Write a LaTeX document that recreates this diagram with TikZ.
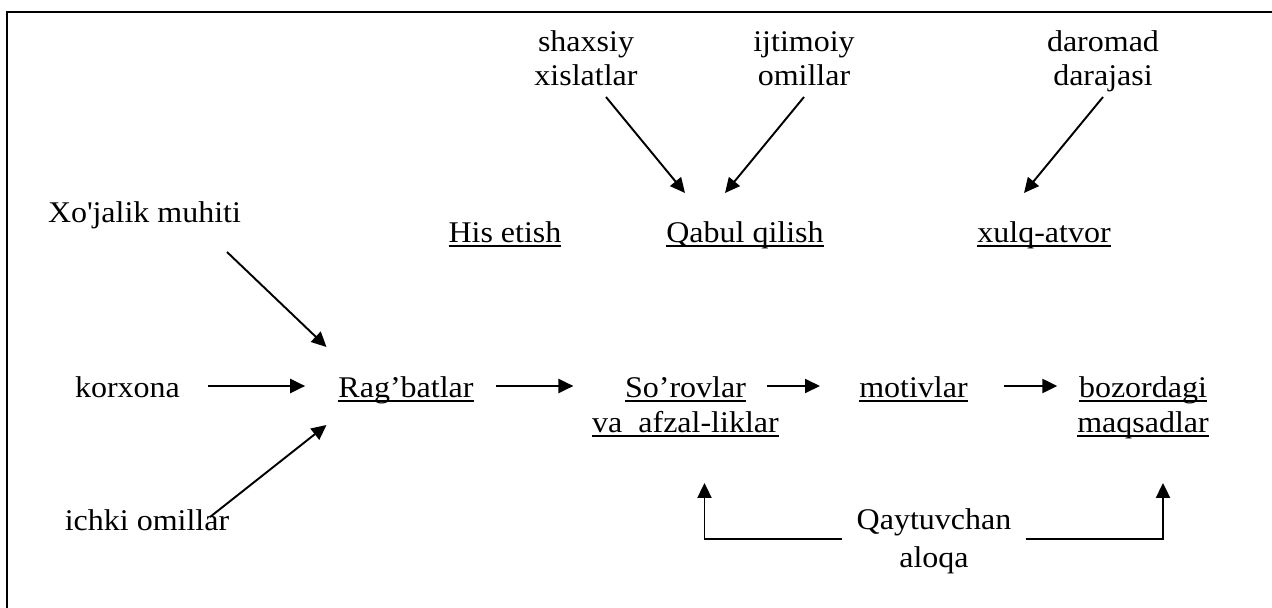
\documentclass[tikz,border=0pt]{standalone}
\usepackage{fontspec}
\setmainfont[FakeStretch=1.065]{Liberation Serif}
\usetikzlibrary{arrows.meta, calc}
\newcommand{\ulined}[1]{\setbox0\hbox{#1}\rlap{\rule[-3pt]{\wd0}{1.1pt}}\box0}

\begin{document}
\begin{tikzpicture}[
    x=0.02cm, y=-0.02cm,
    font=\fontsize{17.1}{19.9}\selectfont,
    term/.style={inner sep=0pt, anchor=base, align=center},
    arrow/.style={-{Triangle[length=8.5pt, width=8pt]}, line width=1.1pt},
    frame/.style={line width=1.1pt}
]
\useasboundingbox (0,0) rectangle (1272,608);
\draw[frame] (7,608) -- (7,12) -- (1272,12);

\node[term] (shax) at (586,86) {shaxsiy\\xislatlar};
\node[term] (ijt) at (804,86) {ijtimoiy\\omillar};
\node[term] (dar) at (1103,86) {daromad\\darajasi};
\node[term] (xoj) at (144.5,222) {Xo\textquotesingle jalik muhiti};
\node[term] (his) at (505,242) {\ulined{His etish}};
\node[term] (qab) at (745,242) {\ulined{Qabul qilish}};
\node[term] (xul) at (1044,242) {\ulined{xulq-atvor}};
\node[term] (korx) at (127.5,397) {korxona};
\node[term] (rag) at (406,397) {\ulined{Rag’batlar}};
\node[term] (sor) at (685.5,432) {\ulined{So’rovlar}\\\ulined{va\ \ afzal-liklar}};
\node[term] (mot) at (913.5,397) {\ulined{motivlar}};
\node[term] (boz) at (1143,432) {\ulined{bozordagi}\\\ulined{maqsadlar}};
\node[term] (ich) at (147,530) {ichki omillar};
\node[term] (qay) at (934,567) {Qaytuvchan\\[1.5pt]aloqa};

\draw[arrow] ($(shax.base)+(20,11)$) -- ($(qab.base)+(-60,-49)$);
\draw[arrow] ($(ijt.base)+(0,11)$) -- ($(qab.base)+(-20,-49)$);
\draw[arrow] ($(dar.base)+(0,11)$) -- ($(xul.base)+(-20,-49)$);
\draw[arrow] ($(xoj.base)+(82.5,30)$) -- ($(rag.base)+(-79.5,-50)$);
\draw[arrow] ($(korx.base east)+(28,-11)$) -- ($(rag.base west)+(-33,-11)$);
\draw[arrow] ($(ich.base)+(63,-13)$) -- ($(rag.base)+(-79.5,28)$);
\draw[arrow] ($(rag.base east)+(22.5,-11)$) -- ($(sor.base west)+(-18.5,-46)$);
\draw[arrow] ($(sor.base east)+(-12,-46)$) -- ($(mot.base west)+(-39,-11)$);
\draw[arrow] ($(mot.base east)+(35.5,-11)$) -- ($(boz.base west)+(-19.6,-46)$);
\draw[arrow] ($(qay.base west)+(-14,-28)$) -| ($(sor.base)+(19,51)$);
\draw[arrow] ($(qay.base east)+(14,-28)$) -| ($(boz.base)+(20,51)$);
\end{tikzpicture}
\end{document}
